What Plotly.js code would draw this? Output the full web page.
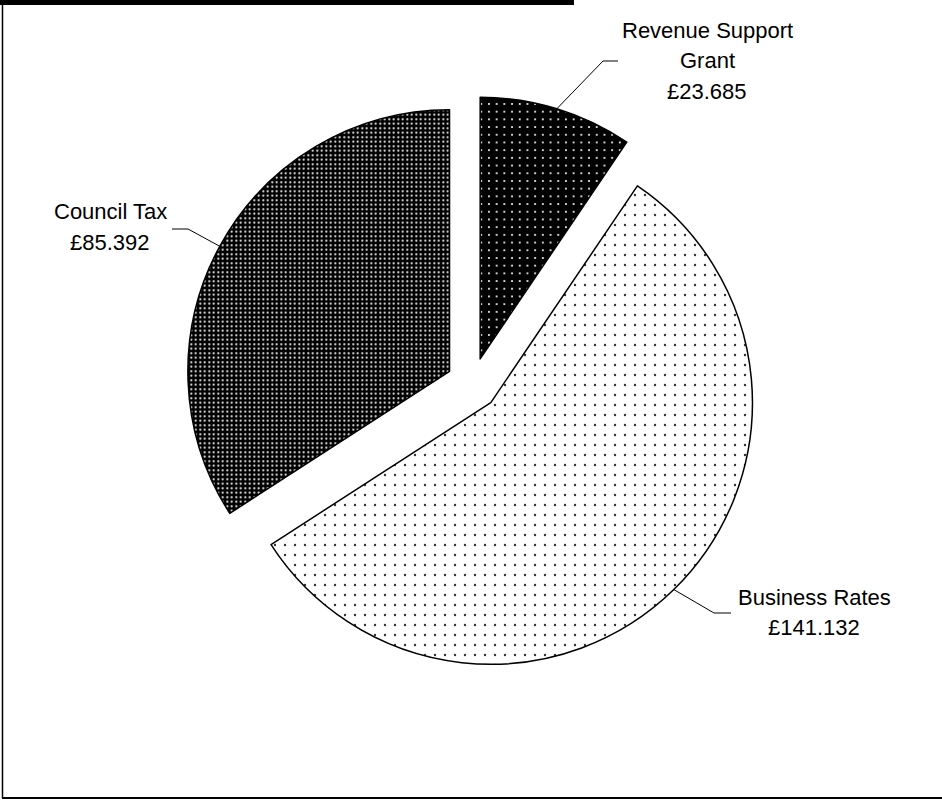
<!DOCTYPE html>
<html>
<head>
<meta charset="utf-8">
<script src="https://cdn.plot.ly/plotly-3.0.1.min.js"></script>
<style>html,body{margin:0;padding:0;background:#fff;}#chart{width:942px;height:801px;}</style>
</head>
<body>
<div id="chart"></div>
<script>
// ---- data ----
const categories = ["Revenue Support Grant", "Business Rates", "Council Tax"];
const values = [23.685, 141.132, 85.392];
const labelLines = [["Revenue Support", "Grant", "£23.685"], ["Business Rates", "£141.132"], ["Council Tax", "£85.392"]];

// ---- layout / style ----
const W = 942, H = 801;
const pullFrac = 0.1;
const domX = [0.1957, 0.8075];
const domY = [0.1614, 0.8800];
const patShapes = [".", ".", "."];
const patBg = ["#000000", "#ffffff", "#000000"];
const patFg = ["#ffffff", "#333333", "#ffffff"];
const patSize = [7.7, 10, 4.5];
const patSolid = [0.06, 0.045, 0.17];
const lineGap = 30;
// label block centre (px) and leader elbow/end points (px)
const labelPos = [[707, 61], [814, 612], [110, 227]];
const elbows = [[[603, 61], [618, 61]], [[714, 613], [731, 613]], [[188, 229], [172, 229]]];

// pie geometry (mirrors Plotly's own pie scaling)
const boxW = (domX[1] - domX[0]) * W, boxH = (domY[1] - domY[0]) * H;
const r = Math.min(boxW, boxH) / (2 + 2 * pullFrac);
const cx = W * (domX[0] + domX[1]) / 2;
const cy = H * (1 - domY[1]) + boxH / 2;
const total = values.reduce((a, b) => a + b, 0);
const px2x = p => p / W, px2y = p => 1 - p / H;

const shapes = [];
const annotations = [];
let cum = 0;
values.forEach((v, i) => {
  const mid = (cum + v / 2) / total * 2 * Math.PI;
  cum += v;
  const dx = Math.sin(mid), dy = -Math.cos(mid);
  const ex = cx + dx * r * (1 + pullFrac), ey = cy + dy * r * (1 + pullFrac);
  const [e1, e2] = elbows[i];
  shapes.push({
    type: "path", xref: "paper", yref: "paper",
    path: `M ${px2x(ex)},${px2y(ey)} L ${px2x(e1[0])},${px2y(e1[1])} L ${px2x(e2[0])},${px2y(e2[1])}`,
    line: {color: "#000", width: 1}
  });
  const lines = labelLines[i];
  lines.forEach((t, k) => {
    const yy = labelPos[i][1] + (k - (lines.length - 1) / 2) * lineGap;
    annotations.push({
      xref: "paper", yref: "paper", x: px2x(labelPos[i][0]), y: px2y(yy),
      xanchor: "center", yanchor: "middle", align: "center", showarrow: false,
      text: t,
      font: {family: "Liberation Sans, Arial, sans-serif", size: 22, color: "#000"}
    });
  });
});

// frame + clipped title underline bar
shapes.push({type: "rect", xref: "paper", yref: "paper", x0: 0, x1: px2x(574), y0: px2y(5), y1: 1,
  fillcolor: "#000", line: {width: 0}});
shapes.push({type: "line", xref: "paper", yref: "paper", x0: px2x(2.5), x1: px2x(2.5), y0: px2y(0), y1: px2y(798),
  line: {color: "#000", width: 1.5}});
shapes.push({type: "line", xref: "paper", yref: "paper", x0: px2x(2), x1: 1, y0: px2y(798), y1: px2y(798),
  line: {color: "#000", width: 2}});

const trace = {
  type: "pie",
  labels: categories,
  values: values,
  sort: false,
  direction: "clockwise",
  rotation: 0,
  pull: [pullFrac, pullFrac, pullFrac],
  textinfo: "none",
  hoverinfo: "label+value",
  domain: {x: domX, y: domY},
  marker: {
    colors: patBg,
    line: {color: "#000", width: 1.5},
    pattern: {shape: patShapes, bgcolor: patBg, fgcolor: patFg, size: patSize, solidity: patSolid, fillmode: "replace"}
  }
};

Plotly.newPlot("chart", [trace], {
  width: W, height: H,
  margin: {l: 0, r: 0, t: 0, b: 0},
  paper_bgcolor: "#fff",
  showlegend: false,
  shapes: shapes,
  annotations: annotations
}, {displayModeBar: false, staticPlot: true});
</script>
</body>
</html>
